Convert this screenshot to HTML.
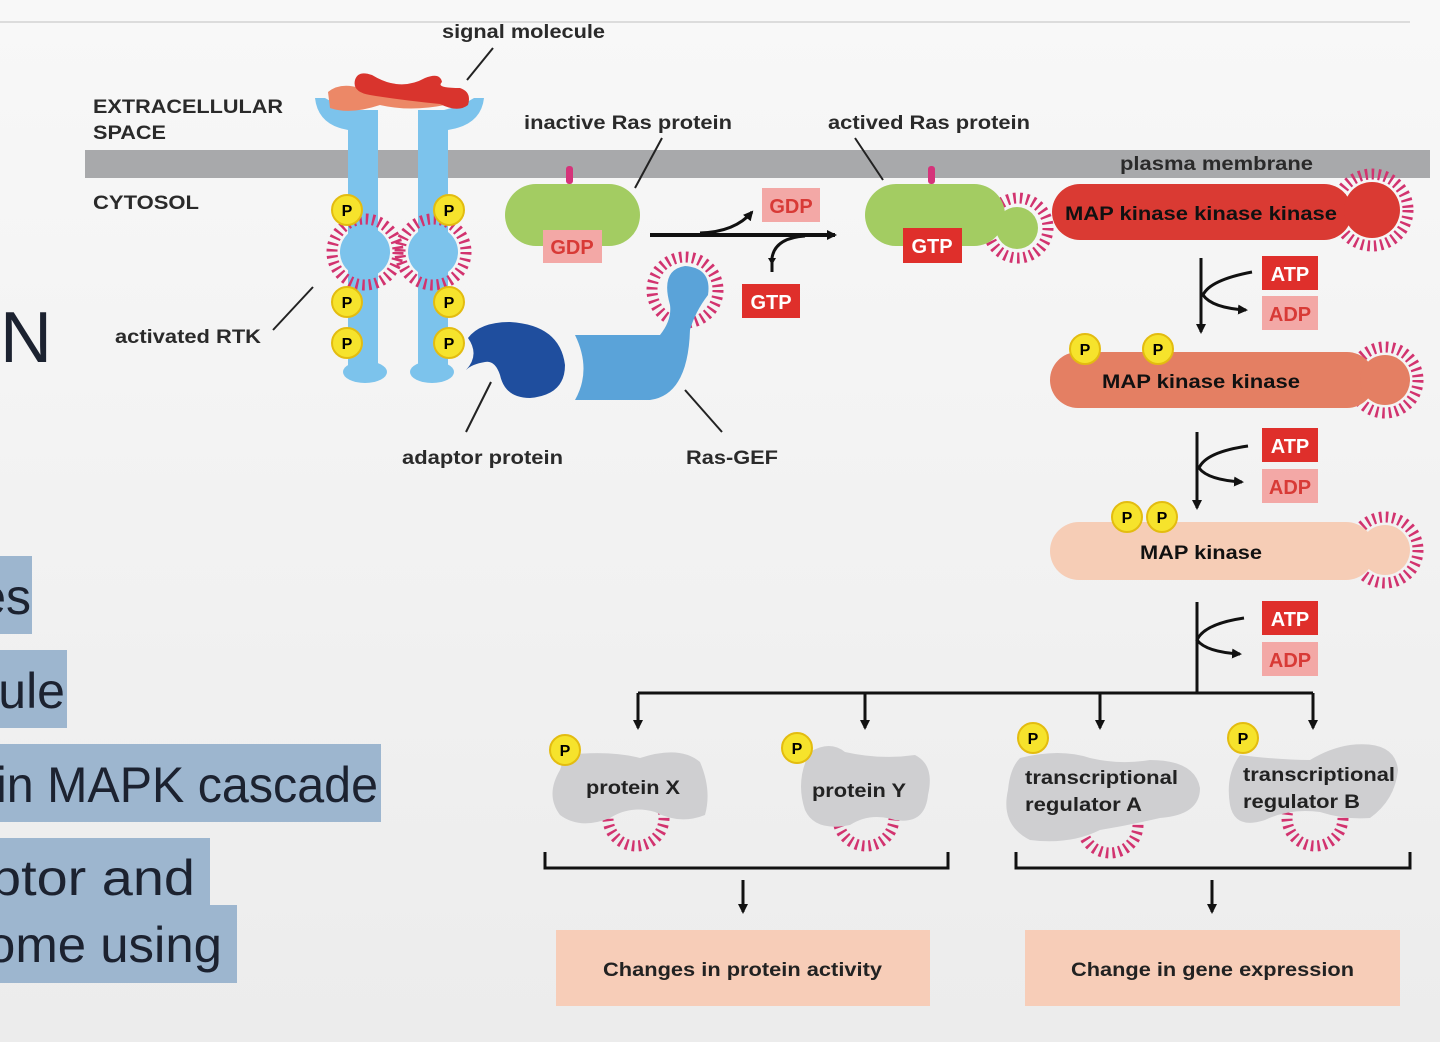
<!DOCTYPE html>
<html><head><meta charset="utf-8"><style>
html,body{margin:0;padding:0;width:1440px;height:1042px;overflow:hidden;background:#f2f2f2}
svg{display:block}
text{font-family:"Liberation Sans",sans-serif}
.l{font-weight:bold;font-size:19px;fill:#2a2a2a}
.hl{font-family:"Liberation Sans",sans-serif;font-size:50px;fill:#1c2230;text-anchor:end}
.pt{font-weight:bold;font-size:16px;fill:#000}
.bx{font-weight:bold;font-size:20px;text-anchor:middle}
.burst{fill:none;stroke:#d2336f;stroke-width:11;stroke-dasharray:2.5 4}
</style></head><body>
<svg width="1440" height="1042" viewBox="0 0 1440 1042" xmlns="http://www.w3.org/2000/svg">
<defs>
<linearGradient id="bg" x1="0" y1="0" x2="0" y2="1"><stop offset="0" stop-color="#f8f8f8"/><stop offset="1" stop-color="#ececec"/></linearGradient>
<marker id="ah" markerWidth="10" markerHeight="10" refX="8" refY="5" orient="auto" markerUnits="userSpaceOnUse"><path d="M0,0 L10,5 L0,10 Z" fill="#111"/></marker>
</defs>
<rect width="1440" height="1042" fill="url(#bg)"/>
<line x1="0" y1="22" x2="1410" y2="22" stroke="#dcdcdc" stroke-width="2"/>

<!-- left slide text -->
<text x="0" y="362" style="font-size:72px;fill:#1c2230;font-family:'Liberation Sans',sans-serif">N</text>
<rect x="0" y="556" width="32" height="78" fill="#9db6cf"/>
<text class="hl" x="31" y="614">es</text>
<rect x="0" y="650" width="67" height="78" fill="#9db6cf"/>
<text class="hl" x="65" y="708">ule</text>
<rect x="0" y="744" width="381" height="78" fill="#9db6cf"/>
<text class="hl" x="378" y="802" textLength="382" lengthAdjust="spacingAndGlyphs">in MAPK cascade</text>
<rect x="0" y="838" width="210" height="70" fill="#9db6cf"/>
<text class="hl" x="195" y="895" textLength="205" lengthAdjust="spacingAndGlyphs">ptor and</text>
<rect x="0" y="905" width="237" height="78" fill="#9db6cf"/>
<text class="hl" x="222" y="962" textLength="235" lengthAdjust="spacingAndGlyphs">ome using</text>

<!-- membrane -->
<rect x="85" y="150" width="1345" height="28" fill="#a8a9ab"/>
<text class="l" x="93" y="113" textLength="190" lengthAdjust="spacingAndGlyphs">EXTRACELLULAR</text>
<text class="l" x="93" y="139" textLength="73" lengthAdjust="spacingAndGlyphs">SPACE</text>
<text class="l" x="93" y="209" textLength="106" lengthAdjust="spacingAndGlyphs">CYTOSOL</text>
<text class="l" x="1120" y="170" textLength="193" lengthAdjust="spacingAndGlyphs">plasma membrane</text>
<text class="l" x="442" y="38" textLength="163" lengthAdjust="spacingAndGlyphs">signal molecule</text>
<line x1="493" y1="48" x2="467" y2="80" stroke="#222" stroke-width="2"/>
<text class="l" x="524" y="129" textLength="208" lengthAdjust="spacingAndGlyphs">inactive Ras protein</text>
<line x1="662" y1="138" x2="635" y2="188" stroke="#222" stroke-width="2"/>
<text class="l" x="828" y="129" textLength="202" lengthAdjust="spacingAndGlyphs">actived Ras protein</text>
<line x1="855" y1="138" x2="883" y2="180" stroke="#222" stroke-width="2"/>
<text class="l" x="115" y="343" textLength="146" lengthAdjust="spacingAndGlyphs">activated RTK</text>
<line x1="273" y1="330" x2="313" y2="287" stroke="#222" stroke-width="2"/>
<text class="l" x="402" y="464" textLength="161" lengthAdjust="spacingAndGlyphs">adaptor protein</text>
<line x1="466" y1="432" x2="491" y2="382" stroke="#222" stroke-width="2"/>
<text class="l" x="686" y="464" textLength="92" lengthAdjust="spacingAndGlyphs">Ras-GEF</text>
<line x1="722" y1="432" x2="685" y2="390" stroke="#222" stroke-width="2"/>

<!-- RTK -->
<g fill="#7cc3ec">
<path d="M315,98 Q318,125 348,130 L348,375 L378,375 L378,115 Q345,110 325,98 Z"/>
<path d="M484,98 Q481,125 448,130 L448,375 L418,375 L418,115 Q455,110 474,98 Z"/>
<rect x="348" y="110" width="30" height="265"/>
<rect x="418" y="110" width="30" height="265"/>
<ellipse cx="365" cy="372" rx="22" ry="11"/>
<ellipse cx="432" cy="372" rx="22" ry="11"/>
</g>
<circle class="burst" cx="365" cy="252" r="33"/>
<circle class="burst" cx="433" cy="252" r="33"/>
<circle cx="365" cy="252" r="25" fill="#7cc3ec"/>
<circle cx="433" cy="252" r="25" fill="#7cc3ec"/>
<!-- signal molecule -->
<path d="M328,92 Q340,82 360,88 Q385,78 410,88 Q430,92 440,88 L445,105 Q410,112 380,105 Q350,115 330,108 Z" fill="#ec8867"/>
<path d="M355,80 Q358,70 372,75 Q400,92 425,78 Q440,72 442,82 Q435,88 460,88 Q472,92 468,105 Q458,113 440,104 Q400,100 370,95 Q352,92 355,80 Z" fill="#d9342d"/>
<g>
<circle cx="347" cy="210" r="15" fill="#f6e32c" stroke="#e3bc10" stroke-width="2"/><text class="pt" x="347" y="216" text-anchor="middle">P</text>
<circle cx="449" cy="210" r="15" fill="#f6e32c" stroke="#e3bc10" stroke-width="2"/><text class="pt" x="449" y="216" text-anchor="middle">P</text>
<circle cx="347" cy="302" r="15" fill="#f6e32c" stroke="#e3bc10" stroke-width="2"/><text class="pt" x="347" y="308" text-anchor="middle">P</text>
<circle cx="449" cy="302" r="15" fill="#f6e32c" stroke="#e3bc10" stroke-width="2"/><text class="pt" x="449" y="308" text-anchor="middle">P</text>
<circle cx="347" cy="343" r="15" fill="#f6e32c" stroke="#e3bc10" stroke-width="2"/><text class="pt" x="347" y="349" text-anchor="middle">P</text>
<circle cx="449" cy="343" r="15" fill="#f6e32c" stroke="#e3bc10" stroke-width="2"/><text class="pt" x="449" y="349" text-anchor="middle">P</text>
</g>
<!-- adaptor -->
<path d="M468,338 Q480,322 510,322 Q560,325 565,365 Q565,395 530,398 Q505,398 500,375 Q495,360 485,362 Q472,364 466,370 Q480,355 468,338 Z" fill="#1f4e9e"/>
<!-- Ras-GEF -->
<circle class="burst" cx="685" cy="290" r="33"/>
<path d="M575,335 L660,335 Q672,320 670,305 Q660,270 685,266 Q712,268 708,295 Q695,312 690,330 Q688,395 650,400 L575,400 Q592,370 575,335 Z" fill="#5aa3d9"/>
<!-- inactive Ras -->
<rect x="566" y="166" width="7" height="18" rx="3" fill="#d5337a"/>
<rect x="505" y="184" width="135" height="62" rx="31" fill="#a3cc62"/>
<rect x="543" y="230" width="59" height="33" fill="#f3a8a6"/>
<text class="bx" x="572" y="254" fill="#d83a36">GDP</text>
<!-- arrows middle -->
<line x1="650" y1="235" x2="835" y2="235" stroke="#111" stroke-width="4" marker-end="url(#ah)"/>
<path d="M700,233 Q735,232 752,212" fill="none" stroke="#111" stroke-width="3" marker-end="url(#ah)"/>
<path d="M772,272 L772,258 Q775,238 805,236" fill="none" stroke="#111" stroke-width="3"/>
<path d="M772,265 L768,258 L776,258 Z" fill="#111"/>
<rect x="762" y="188" width="58" height="34" fill="#f3a8a6"/>
<text class="bx" x="791" y="213" fill="#d83a36">GDP</text>
<rect x="742" y="284" width="58" height="34" fill="#df2f2b"/>
<text class="bx" x="771" y="309" fill="#fff">GTP</text>
<!-- active Ras -->
<circle class="burst" cx="1018" cy="228" r="30"/>
<rect x="928" y="166" width="7" height="18" rx="3" fill="#d5337a"/>
<rect x="865" y="184" width="140" height="62" rx="31" fill="#a3cc62"/>
<circle cx="1017" cy="228" r="21" fill="#a3cc62"/>
<rect x="903" y="228" width="59" height="35" fill="#df2f2b"/>
<text class="bx" x="932" y="253" fill="#fff">GTP</text>
<!-- MAPKKK -->
<circle class="burst" cx="1372" cy="210" r="36"/>
<rect x="1052" y="184" width="300" height="56" rx="28" fill="#da3a33"/>
<circle cx="1372" cy="210" r="28" fill="#da3a33"/>
<text x="1065" y="220" textLength="272" lengthAdjust="spacingAndGlyphs" style="font-weight:bold;font-size:19px;fill:#111">MAP kinase kinase kinase</text>
<!-- MAPKK -->
<circle class="burst" cx="1385" cy="380" r="33"/>
<rect x="1050" y="352" width="325" height="56" rx="28" fill="#e47f63"/>
<circle cx="1385" cy="380" r="25" fill="#e47f63"/>
<text x="1102" y="388" textLength="198" lengthAdjust="spacingAndGlyphs" style="font-weight:bold;font-size:19px;fill:#111">MAP kinase kinase</text>
<circle cx="1085" cy="349" r="15" fill="#f6e32c" stroke="#e3bc10" stroke-width="2"/><text class="pt" x="1085" y="355" text-anchor="middle">P</text>
<circle cx="1158" cy="349" r="15" fill="#f6e32c" stroke="#e3bc10" stroke-width="2"/><text class="pt" x="1158" y="355" text-anchor="middle">P</text>
<!-- MAPK -->
<circle class="burst" cx="1385" cy="550" r="33"/>
<rect x="1050" y="522" width="325" height="58" rx="29" fill="#f6cdb6"/>
<circle cx="1385" cy="550" r="25" fill="#f6cdb6"/>
<text x="1140" y="559" textLength="122" lengthAdjust="spacingAndGlyphs" style="font-weight:bold;font-size:19px;fill:#111">MAP kinase</text>
<circle cx="1127" cy="517" r="15" fill="#f6e32c" stroke="#e3bc10" stroke-width="2"/><text class="pt" x="1127" y="523" text-anchor="middle">P</text>
<circle cx="1162" cy="517" r="15" fill="#f6e32c" stroke="#e3bc10" stroke-width="2"/><text class="pt" x="1162" y="523" text-anchor="middle">P</text>
<!-- ATP/ADP -->
<g>
<rect x="1262" y="256" width="56" height="34" fill="#df2f2b"/><text class="bx" x="1290" y="281" fill="#fff">ATP</text>
<rect x="1262" y="296" width="56" height="34" fill="#f3a8a6"/><text class="bx" x="1290" y="321" fill="#d83a36">ADP</text>
<rect x="1262" y="428" width="56" height="34" fill="#df2f2b"/><text class="bx" x="1290" y="453" fill="#fff">ATP</text>
<rect x="1262" y="469" width="56" height="34" fill="#f3a8a6"/><text class="bx" x="1290" y="494" fill="#d83a36">ADP</text>
<rect x="1262" y="601" width="56" height="34" fill="#df2f2b"/><text class="bx" x="1290" y="626" fill="#fff">ATP</text>
<rect x="1262" y="642" width="56" height="34" fill="#f3a8a6"/><text class="bx" x="1290" y="667" fill="#d83a36">ADP</text>
</g>
<g fill="none" stroke="#111" stroke-width="3">
<line x1="1201" y1="258" x2="1201" y2="332" marker-end="url(#ah)"/>
<path d="M1252,272 Q1210,280 1203,295 Q1212,308 1246,310" marker-end="url(#ah)"/>
<line x1="1197" y1="432" x2="1197" y2="508" marker-end="url(#ah)"/>
<path d="M1248,446 Q1206,452 1199,468 Q1208,480 1242,482" marker-end="url(#ah)"/>
<path d="M1244,618 Q1204,624 1197,640 Q1206,652 1240,654" marker-end="url(#ah)"/>
<line x1="1197" y1="602" x2="1197" y2="693"/>
<line x1="638" y1="693" x2="1313" y2="693"/>
<line x1="638" y1="693" x2="638" y2="728" marker-end="url(#ah)"/>
<line x1="865" y1="693" x2="865" y2="728" marker-end="url(#ah)"/>
<line x1="1100" y1="693" x2="1100" y2="728" marker-end="url(#ah)"/>
<line x1="1313" y1="693" x2="1313" y2="728" marker-end="url(#ah)"/>
<path d="M545,852 L545,868 L948,868 L948,852"/>
<path d="M1016,852 L1016,868 L1410,868 L1410,852"/>
<line x1="743" y1="880" x2="743" y2="912" marker-end="url(#ah)"/>
<line x1="1212" y1="880" x2="1212" y2="912" marker-end="url(#ah)"/>
</g>
<!-- target proteins -->
<circle class="burst" cx="636" cy="818" r="28"/>
<circle class="burst" cx="866" cy="818" r="28"/>
<circle class="burst" cx="1110" cy="825" r="28"/>
<circle class="burst" cx="1315" cy="818" r="28"/>
<g fill="#cfcfd1">
<path d="M565,755 Q610,750 640,758 Q680,745 700,762 Q712,790 705,815 Q680,825 655,812 Q630,805 610,818 Q580,830 560,815 Q545,795 560,770 Z"/>
<path d="M810,752 Q830,740 845,752 Q880,760 915,755 Q935,765 928,795 Q925,825 895,820 Q870,812 850,825 Q815,832 805,810 Q795,780 810,752 Z"/>
<path d="M1020,758 Q1060,748 1090,758 Q1120,765 1150,760 Q1195,760 1200,788 Q1200,815 1160,818 Q1130,825 1100,830 Q1070,845 1030,840 Q1000,825 1008,790 Q1010,768 1020,758 Z"/>
<path d="M1240,755 Q1280,760 1310,760 Q1330,748 1350,745 Q1395,740 1398,770 Q1395,800 1370,818 Q1345,820 1320,812 Q1290,808 1265,820 Q1235,830 1230,805 Q1225,775 1240,755 Z"/>
</g>
<g style="font-weight:bold;font-size:19px;fill:#222">
<text x="586" y="794" textLength="94" lengthAdjust="spacingAndGlyphs">protein X</text>
<text x="812" y="797" textLength="94" lengthAdjust="spacingAndGlyphs">protein Y</text>
<text x="1025" y="784" textLength="153" lengthAdjust="spacingAndGlyphs">transcriptional</text>
<text x="1025" y="811" textLength="117" lengthAdjust="spacingAndGlyphs">regulator A</text>
<text x="1243" y="781" textLength="152" lengthAdjust="spacingAndGlyphs">transcriptional</text>
<text x="1243" y="808" textLength="117" lengthAdjust="spacingAndGlyphs">regulator B</text>
</g>
<circle cx="565" cy="750" r="15" fill="#f6e32c" stroke="#e3bc10" stroke-width="2"/><text class="pt" x="565" y="756" text-anchor="middle">P</text>
<circle cx="797" cy="748" r="15" fill="#f6e32c" stroke="#e3bc10" stroke-width="2"/><text class="pt" x="797" y="754" text-anchor="middle">P</text>
<circle cx="1033" cy="738" r="15" fill="#f6e32c" stroke="#e3bc10" stroke-width="2"/><text class="pt" x="1033" y="744" text-anchor="middle">P</text>
<circle cx="1243" cy="738" r="15" fill="#f6e32c" stroke="#e3bc10" stroke-width="2"/><text class="pt" x="1243" y="744" text-anchor="middle">P</text>
<!-- outcome boxes -->
<rect x="556" y="930" width="374" height="76" fill="#f7cdb8"/>
<text x="603" y="976" textLength="279" lengthAdjust="spacingAndGlyphs" style="font-weight:bold;font-size:19px;fill:#222">Changes in protein activity</text>
<rect x="1025" y="930" width="375" height="76" fill="#f7cdb8"/>
<text x="1071" y="976" textLength="283" lengthAdjust="spacingAndGlyphs" style="font-weight:bold;font-size:19px;fill:#222">Change in gene expression</text>
</svg>
</body></html>
